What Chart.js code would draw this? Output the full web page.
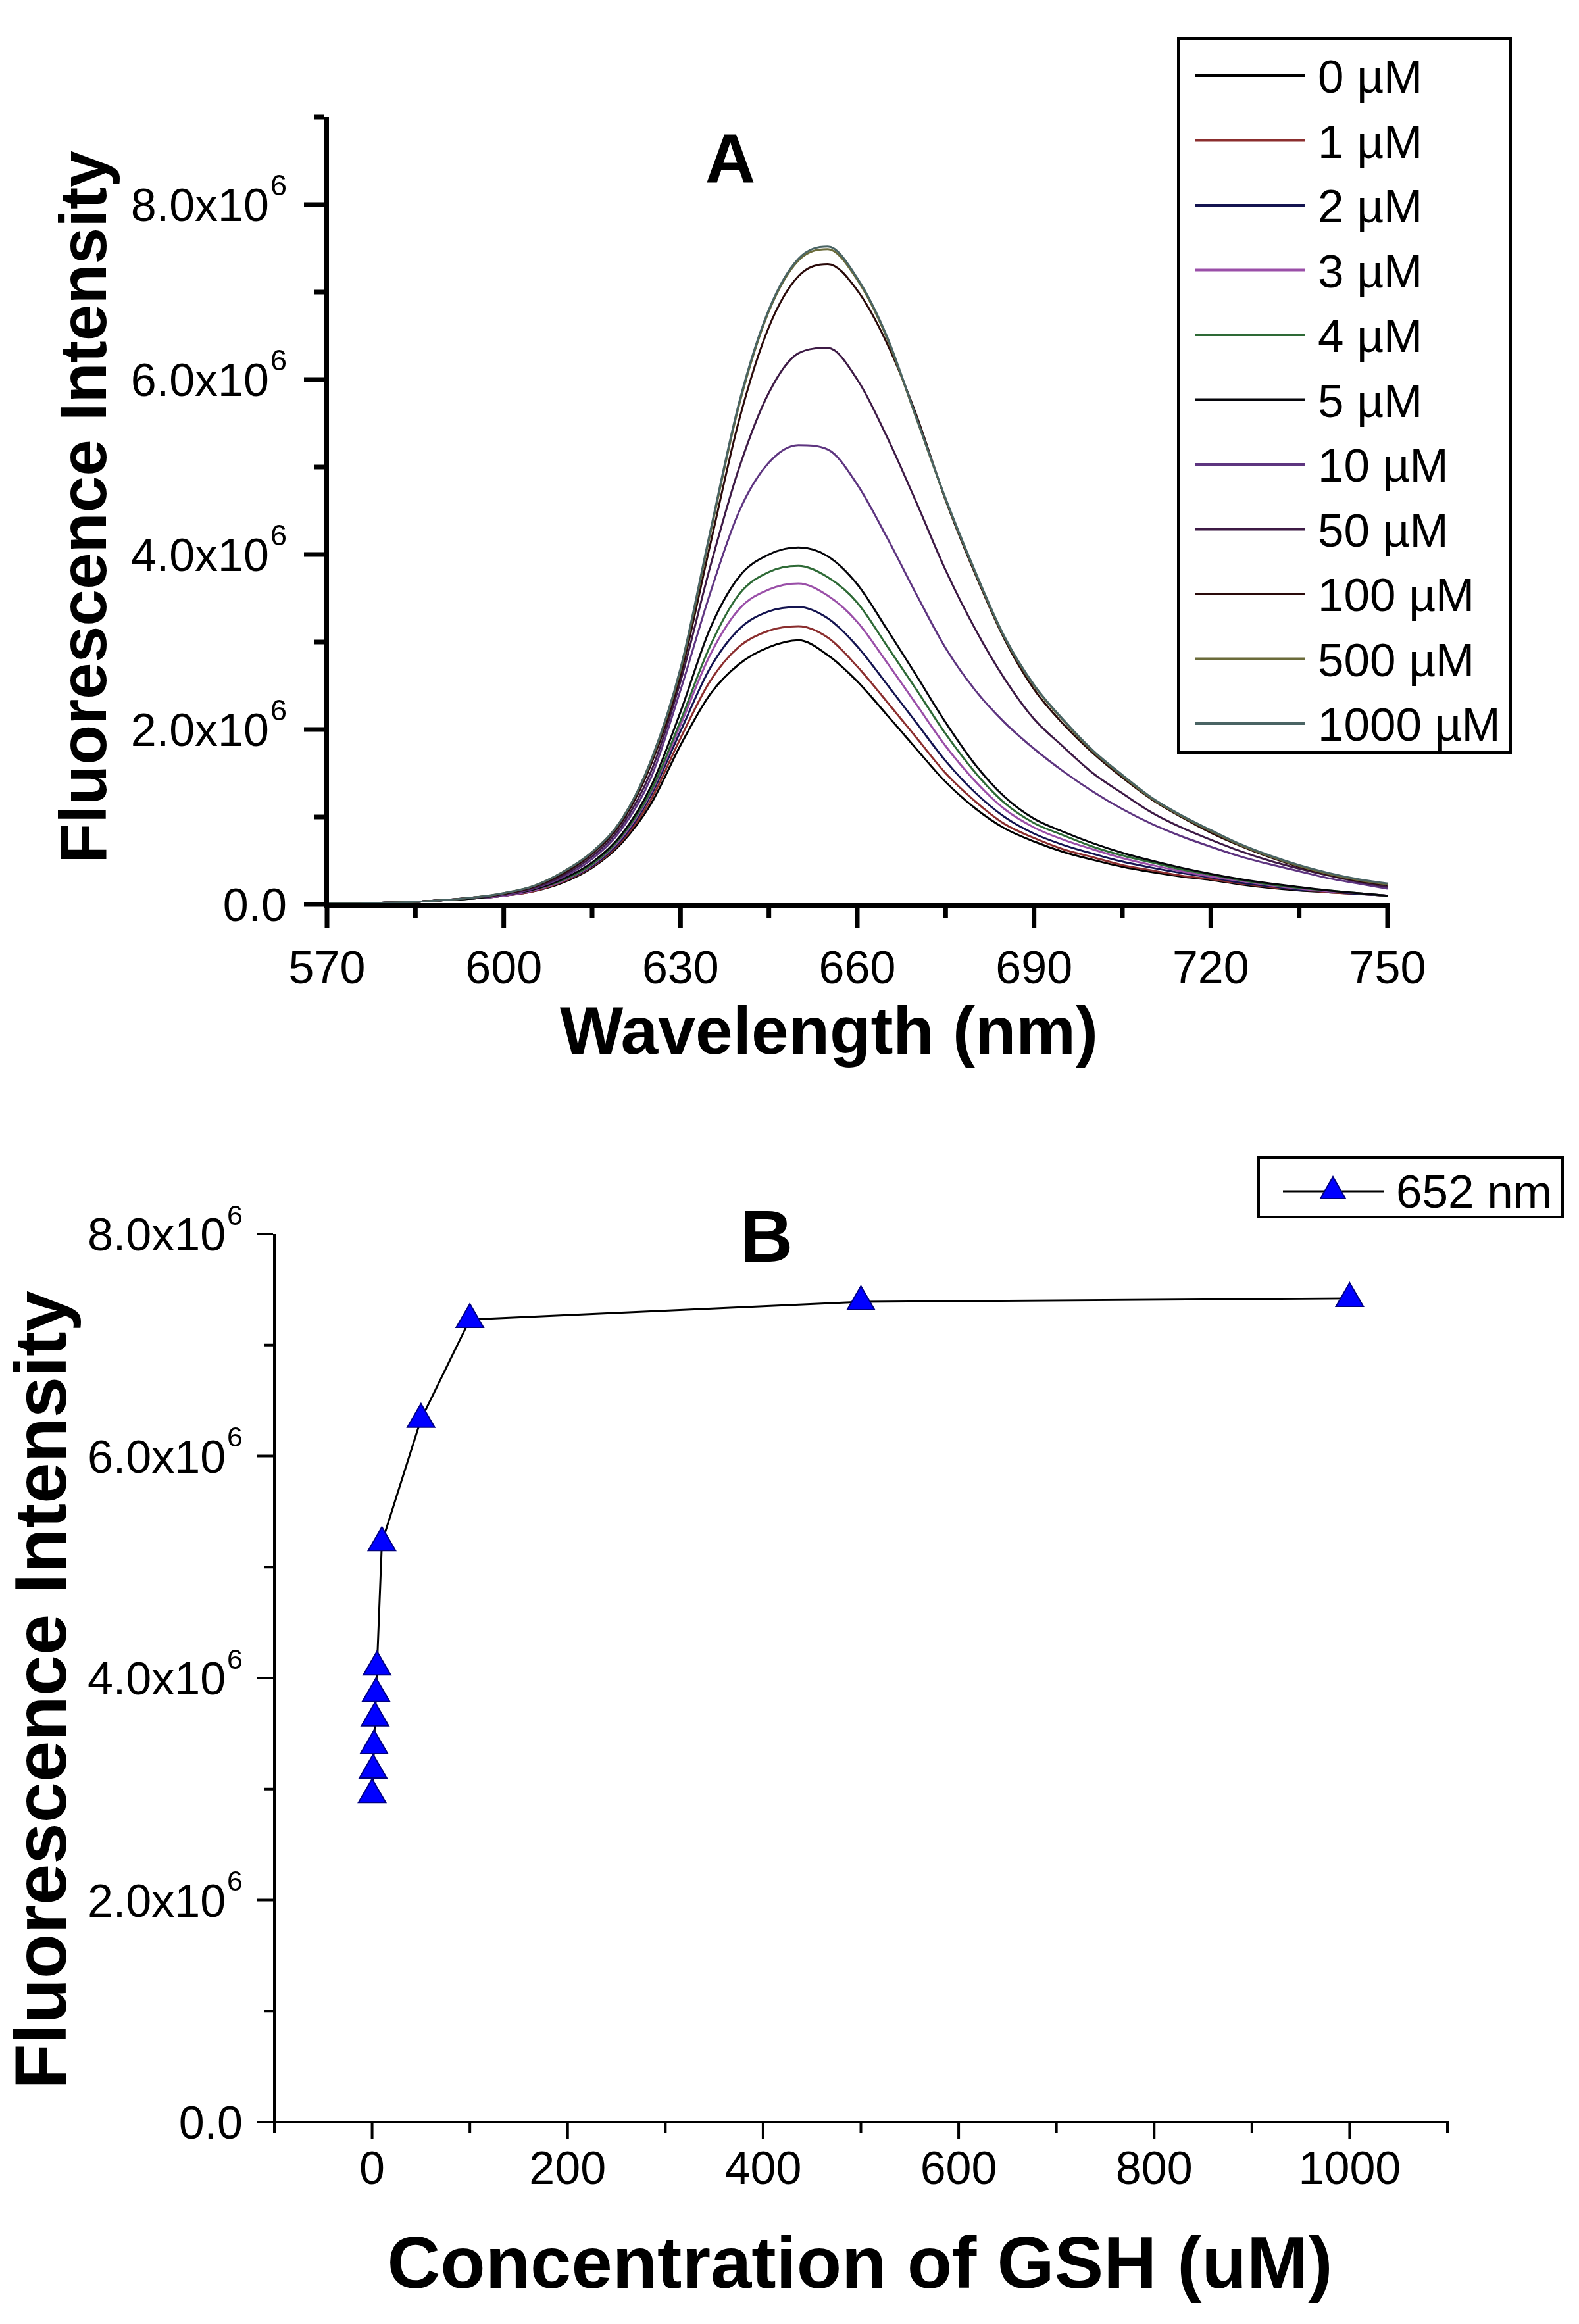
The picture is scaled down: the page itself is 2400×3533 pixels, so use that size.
<!DOCTYPE html>
<html><head><meta charset="utf-8">
<script src="https://cdn.jsdelivr.net/npm/chart.js@4/dist/chart.umd.min.js"></script>
<style>
html,body{margin:0;padding:0;background:#fff;}
#wrap{position:relative;width:2400px;height:3533px;background:#fff;overflow:hidden;}
canvas{position:absolute;left:0;}
#cA{top:0;} #cB{top:1700px;}
</style></head><body>
<div id="wrap"><canvas id="cA" width="2400" height="1700"></canvas><canvas id="cB" width="2400" height="1833"></canvas></div>
<script>
// ===== Panel A: emission spectra (intensity in units of 1e6) =====
const wavelengths = [570,575,580,585,590,595,600,605,610,615,620,625,630,635,640,645,650,655,660,665,670,675,680,685,690,695,700,705,710,715,720,725,730,735,740,745,750];
const concLabels = ['0 µM','1 µM','2 µM','3 µM','4 µM','5 µM','10 µM','50 µM','100 µM','500 µM','1000 µM'];
const seriesColors = ['#000000','#8b2e2e','#141450','#9a4fa8','#2e6a36','#05050a','#5e3580','#3d1a45','#2a0a0a','#6b6b3a','#4a6464'];
const s0uM   = [0.01,0.01,0.02,0.03,0.05,0.07,0.10,0.15,0.25,0.42,0.70,1.15,1.82,2.40,2.75,2.94,3.02,2.85,2.55,2.17,1.78,1.40,1.10,0.87,0.72,0.60,0.51,0.43,0.37,0.32,0.28,0.23,0.19,0.16,0.14,0.12,0.10];
const s1uM   = [0.01,0.01,0.02,0.03,0.05,0.07,0.10,0.15,0.26,0.43,0.72,1.20,1.90,2.55,2.95,3.13,3.18,3.05,2.72,2.32,1.91,1.50,1.18,0.92,0.76,0.63,0.54,0.45,0.39,0.33,0.29,0.24,0.20,0.17,0.14,0.12,0.10];
const s2uM   = [0.01,0.01,0.02,0.03,0.05,0.07,0.10,0.16,0.27,0.44,0.74,1.25,1.98,2.70,3.15,3.35,3.40,3.27,2.95,2.52,2.08,1.64,1.28,1.00,0.81,0.68,0.58,0.49,0.42,0.36,0.31,0.25,0.21,0.17,0.15,0.12,0.10];
const s3uM   = [0.01,0.01,0.02,0.03,0.05,0.07,0.10,0.16,0.27,0.45,0.76,1.28,2.05,2.85,3.38,3.60,3.67,3.53,3.23,2.77,2.29,1.81,1.41,1.09,0.88,0.74,0.63,0.53,0.45,0.38,0.32,0.27,0.22,0.18,0.15,0.13,0.10];
const s4uM   = [0.01,0.01,0.02,0.03,0.05,0.07,0.11,0.17,0.28,0.46,0.78,1.30,2.10,2.95,3.55,3.80,3.87,3.74,3.45,2.96,2.46,1.95,1.51,1.16,0.93,0.79,0.66,0.56,0.48,0.40,0.34,0.28,0.23,0.19,0.16,0.13,0.10];
const s5uM   = [0.01,0.01,0.02,0.03,0.05,0.07,0.11,0.17,0.29,0.48,0.80,1.35,2.20,3.15,3.75,4.00,4.08,3.98,3.66,3.15,2.62,2.08,1.60,1.23,0.98,0.83,0.70,0.59,0.50,0.42,0.35,0.29,0.24,0.20,0.16,0.13,0.10];
const s10uM  = [0.01,0.01,0.02,0.03,0.05,0.08,0.11,0.18,0.31,0.52,0.86,1.45,2.45,3.55,4.50,5.05,5.25,5.20,4.80,4.20,3.55,2.93,2.45,2.08,1.78,1.52,1.29,1.09,0.92,0.78,0.66,0.55,0.46,0.38,0.30,0.24,0.18];
const s50uM  = [0.01,0.01,0.02,0.03,0.05,0.08,0.12,0.19,0.33,0.55,0.90,1.52,2.55,3.85,5.00,5.85,6.30,6.36,6.00,5.35,4.60,3.82,3.15,2.58,2.12,1.80,1.50,1.27,1.05,0.88,0.74,0.61,0.50,0.41,0.33,0.26,0.20];
const s100uM = [0.01,0.01,0.02,0.03,0.05,0.08,0.12,0.20,0.35,0.58,0.94,1.60,2.62,4.10,5.55,6.60,7.18,7.32,7.02,6.42,5.60,4.62,3.78,3.03,2.46,2.06,1.73,1.45,1.20,1.00,0.82,0.67,0.54,0.43,0.34,0.27,0.22];
const s500uM = [0.01,0.01,0.02,0.03,0.05,0.08,0.13,0.21,0.37,0.60,0.97,1.64,2.68,4.22,5.72,6.78,7.36,7.49,7.14,6.48,5.56,4.63,3.80,3.05,2.50,2.10,1.75,1.47,1.21,1.01,0.84,0.68,0.55,0.44,0.35,0.28,0.23];
const s1000uM= [0.01,0.01,0.02,0.03,0.05,0.08,0.13,0.21,0.37,0.60,0.97,1.65,2.70,4.25,5.75,6.80,7.38,7.52,7.16,6.50,5.57,4.64,3.81,3.06,2.51,2.11,1.76,1.48,1.22,1.02,0.85,0.69,0.56,0.45,0.36,0.29,0.24];

// ===== Panel B: intensity at 652 nm vs GSH concentration (units of 1e6) =====
const gshConc = [0,1,2,3,4,5,10,50,100,500,1000];
const int652  = [2.95,3.17,3.39,3.64,3.86,4.10,5.22,6.33,7.23,7.39,7.42];

// ===== Tick values / labels =====
const xTicksA = [570,600,630,660,690,720,750];
const xMinorA = [585,615,645,675,705,735];
const xLabelsA = ['570','600','630','660','690','720','750'];
const yTicksA = [0,2e6,4e6,6e6,8e6];
const yMinorA = [1e6,3e6,5e6,7e6,9e6];
const yLabels = [['0.0',''],['2.0x10','6'],['4.0x10','6'],['6.0x10','6'],['8.0x10','6']];
const xTicksB = [0,200,400,600,800,1000];
const xMinorB = [-100,100,300,500,700,900,1100];
const xLabelsB = ['0','200','400','600','800','1000'];
const yTicksB = [0,2e6,4e6,6e6,8e6];
const yMinorB = [1e6,3e6,5e6,7e6];

const FONT = '"Liberation Sans", Arial, Helvetica, sans-serif';

function tri(ctx, x, y, r) {
  ctx.beginPath();
  ctx.moveTo(x, y - r);
  ctx.lineTo(x + r * 0.866, y + r / 2);
  ctx.lineTo(x - r * 0.866, y + r / 2);
  ctx.closePath(); ctx.fill(); ctx.stroke();
}

function makeDeco(c) {
  return {
    id: 'deco' + c.name,
    afterDraw(chart) {
      const ctx = chart.ctx, ca = chart.chartArea;
      const xs = chart.scales.x, ys = chart.scales.y;
      ctx.save();
      ctx.fillStyle = '#000'; ctx.strokeStyle = '#000'; ctx.lineCap = 'butt';
      const aw = c.axisWidth, hw = aw / 2;
      const axX = ca.left + c.yAxisShift, axY = ca.bottom + c.xAxisShift;
      ctx.lineWidth = aw;
      ctx.beginPath();
      ctx.moveTo(axX, ca.top); ctx.lineTo(axX, axY + hw);
      ctx.moveTo(axX - hw, axY); ctx.lineTo(ca.right + hw, axY);
      ctx.stroke();
      ctx.lineWidth = c.tickWidth;
      ctx.beginPath();
      c.yMajor.forEach(v => { const p = ys.getPixelForValue(v); ctx.moveTo(axX - hw, p); ctx.lineTo(axX - hw - c.majorLen, p); });
      c.yMinor.forEach(v => { const p = ys.getPixelForValue(v); ctx.moveTo(axX - hw, p); ctx.lineTo(axX - hw - c.minorLen, p); });
      c.xMajor.forEach(v => { const p = xs.getPixelForValue(v); ctx.moveTo(p, axY + hw); ctx.lineTo(p, axY + hw + c.majorLen); });
      c.xMinor.forEach(v => { const p = xs.getPixelForValue(v); ctx.moveTo(p, axY + hw); ctx.lineTo(p, axY + hw + c.minorLen); });
      ctx.stroke();
      // x tick labels
      ctx.font = c.tickFont + 'px ' + FONT; ctx.textAlign = 'center'; ctx.textBaseline = 'alphabetic';
      c.xMajor.forEach((v, i) => ctx.fillText(c.xLabels[i], xs.getPixelForValue(v), axY + c.xLabelBase));
      // y tick labels with superscript
      const capH = c.tickFont * 0.716;
      c.yMajor.forEach((v, i) => {
        const main = c.yLabels[i][0], sup = c.yLabels[i][1];
        const p = ys.getPixelForValue(v);
        ctx.font = c.tickFont + 'px ' + FONT;
        const mw = ctx.measureText(main).width;
        ctx.font = c.supFont + 'px ' + FONT;
        const sw = sup ? ctx.measureText(sup).width + c.supGap : 0;
        const x0 = axX - c.yLabelGap - mw - sw;
        ctx.textAlign = 'left';
        ctx.font = c.tickFont + 'px ' + FONT;
        ctx.fillText(main, x0, p + capH / 2);
        if (sup) { ctx.font = c.supFont + 'px ' + FONT; ctx.fillText(sup, x0 + mw + c.supGap, p - capH / 2 + c.supRaise); }
      });
      // axis titles & panel letter
      ctx.textAlign = 'center'; ctx.textBaseline = 'alphabetic';
      ctx.font = 'bold ' + c.xTitle.size + 'px ' + FONT;
      ctx.fillText(c.xTitle.text, c.xTitle.x, c.xTitle.y);
      ctx.save();
      ctx.translate(c.yTitle.x, c.yTitle.y); ctx.rotate(-Math.PI / 2);
      ctx.font = 'bold ' + c.yTitle.size + 'px ' + FONT;
      ctx.fillText(c.yTitle.text, 0, 0);
      ctx.restore();
      ctx.font = 'bold ' + c.letter.size + 'px ' + FONT;
      ctx.fillText(c.letter.text, c.letter.x, c.letter.y);
      c.legend(ctx, chart);
      ctx.restore();
    }
  };
}

const cfgA = {
  name: 'A', axisWidth: 8, tickWidth: 7, yAxisShift: -1, xAxisShift: 2, majorLen: 30, minorLen: 14,
  tickFont: 70, supFont: 45, supGap: 2, supRaise: 11, yLabelGap: 60, xLabelBase: 118,
  xMajor: xTicksA, xMinor: xMinorA, xLabels: xLabelsA, yMajor: yTicksA, yMinor: yMinorA, yLabels: yLabels,
  xTitle: { text: 'Wavelength (nm)', x: 1260, y: 1602, size: 102 },
  yTitle: { text: 'Fluorescence Intensity', x: 161, y: 771, size: 100 },
  letter: { text: 'A', x: 1110, y: 278, size: 106 },
  legend(ctx, chart) {
    ctx.strokeStyle = '#000'; ctx.lineWidth = 5;
    ctx.strokeRect(1791.5, 58.5, 504, 1086);
    chart.data.datasets.forEach((ds, i) => {
      const y = 115 + i * 98.5;
      ctx.strokeStyle = ds.borderColor; ctx.lineWidth = 4;
      ctx.beginPath(); ctx.moveTo(1816, y); ctx.lineTo(1984, y); ctx.stroke();
      ctx.fillStyle = '#000'; ctx.textAlign = 'left'; ctx.font = '71px ' + FONT;
      ctx.fillText(ds.label, 2003, y + 26);
    });
  }
};

const cfgB = {
  name: 'B', axisWidth: 4, tickWidth: 4, yAxisShift: 0, xAxisShift: 0, majorLen: 24, minorLen: 14,
  tickFont: 70, supFont: 43, supGap: 2, supRaise: 11, yLabelGap: 48, xLabelBase: 94,
  xMajor: xTicksB, xMinor: xMinorB, xLabels: xLabelsB, yMajor: yTicksB, yMinor: yMinorB, yLabels: yLabels,
  xTitle: { text: 'Concentration of GSH (uM)', x: 1307, y: 1778, size: 112 },
  yTitle: { text: 'Fluorescence Intensity', x: 100, y: 869, size: 112 },
  letter: { text: 'B', x: 1165, y: 218, size: 112 },
  legend(ctx, chart) {
    ctx.strokeStyle = '#000'; ctx.lineWidth = 4;
    ctx.strokeRect(1913, 60, 462, 90);
    const ds = chart.data.datasets[0];
    ctx.lineWidth = 3; ctx.strokeStyle = ds.borderColor;
    ctx.beginPath(); ctx.moveTo(1950, 111); ctx.lineTo(2103, 111); ctx.stroke();
    ctx.fillStyle = ds.pointBackgroundColor; ctx.strokeStyle = ds.pointBorderColor; ctx.lineWidth = 2;
    tri(ctx, 2026, 111, 22);
    ctx.fillStyle = '#000'; ctx.textAlign = 'left'; ctx.font = '71px ' + FONT;
    ctx.fillText(ds.label, 2122, 136);
  }
};

const seriesA = [s0uM, s1uM, s2uM, s3uM, s4uM, s5uM, s10uM, s50uM, s100uM, s500uM, s1000uM];

const common = {
  responsive: false, animation: false, devicePixelRatio: 1, events: [],
  plugins: { legend: { display: false }, tooltip: { enabled: false }, title: { display: false } }
};

new Chart(document.getElementById('cA'), {
  type: 'line',
  data: {
    datasets: concLabels.map((lab, i) => ({
      label: lab,
      data: wavelengths.map((w, j) => ({ x: w, y: seriesA[i][j] * 1e6 })),
      borderColor: seriesColors[i], backgroundColor: seriesColors[i],
      borderWidth: 3, pointRadius: 0, cubicInterpolationMode: 'monotone', fill: false, order: -i
    }))
  },
  options: Object.assign({}, common, {
    layout: { padding: { left: 0, right: 291, top: 178, bottom: 315 } },
    scales: {
      x: { type: 'linear', min: 570, max: 750, grid: { display: false }, border: { display: false }, ticks: { display: false }, afterFit(s) { s.height = 10; } },
      y: { type: 'linear', min: 0, max: 9e6, grid: { display: false }, border: { display: false }, ticks: { display: false }, afterFit(s) { s.width = 497; } }
    }
  }),
  plugins: [makeDeco(cfgA)]
});

new Chart(document.getElementById('cB'), {
  type: 'line',
  data: {
    datasets: [{
      label: '652 nm',
      data: gshConc.map((c, i) => ({ x: c, y: int652[i] * 1e6 })),
      borderColor: '#000000', borderWidth: 3, tension: 0, fill: false,
      pointStyle: 'triangle', pointRadius: 24,
      pointBackgroundColor: '#0000ff', pointBorderColor: '#000080', pointBorderWidth: 2
    }]
  },
  options: Object.assign({}, common, {
    layout: { padding: { left: 0, right: 200, top: 176, bottom: 297 } },
    scales: {
      x: { type: 'linear', min: -100, max: 1100, grid: { display: false }, border: { display: false }, ticks: { display: false }, afterFit(s) { s.height = 10; } },
      y: { type: 'linear', min: 0, max: 8e6, grid: { display: false }, border: { display: false }, ticks: { display: false }, afterFit(s) { s.width = 417; } }
    }
  }),
  plugins: [makeDeco(cfgB)]
});
</script>
</body></html>
